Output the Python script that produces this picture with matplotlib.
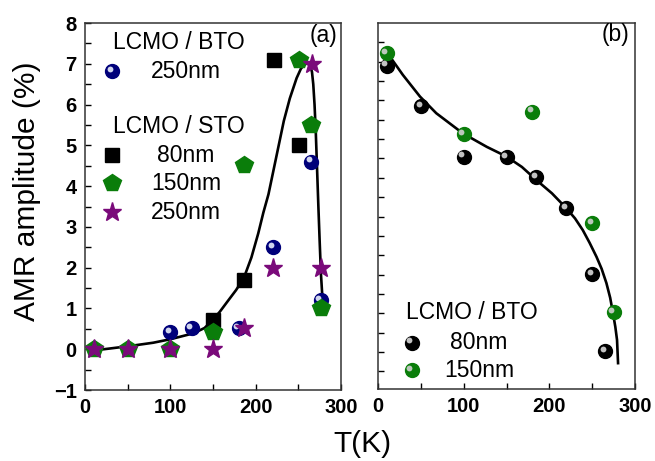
import numpy as np
import matplotlib
matplotlib.use("Agg")
import matplotlib.pyplot as plt
from matplotlib.transforms import offset_copy

plt.rcParams['font.family'] = ['Liberation Sans', 'DejaVu Sans']

# ---- panel (a) data ----
bto250_T = [100, 125, 180, 220, 265, 276]
bto250_amr = [0.42, 0.51, 0.51, 2.5, 4.6, 1.21]

sto80_T = [150, 186, 221, 251]
sto80_amr = [0.72, 1.7, 7.1, 5.0]

sto150_T = [10, 50, 100, 150, 186, 251, 265, 276]
sto150_amr = [0.0, 0.0, 0.0, 0.42, 4.52, 7.1, 5.5, 1.0]

sto250_T = [10, 50, 100, 150, 186, 220, 266, 276]
sto250_amr = [0.0, 0.0, 0.0, 0.0, 0.51, 2.0, 7.0, 2.0]

# guide line
fit_a_T = [10, 30, 53, 80, 100, 127, 140, 148, 158, 168, 177, 186, 195,
           203, 209, 215, 219, 225, 233, 240, 248, 253, 257, 261, 264, 266,
           267.5, 269, 270.5, 272, 273.5, 275, 276.5, 279]
fit_a_amr = [-0.03, 0.02, 0.08, 0.16, 0.245, 0.39, 0.52, 0.68, 0.92, 1.2,
             1.45, 1.74, 2.25, 2.84, 3.35, 3.8, 4.2, 4.8, 5.6, 6.15, 6.65,
             6.88, 6.98, 7.02, 6.95, 6.8, 6.5, 6.0, 5.3, 4.4, 3.5, 2.65,
             1.85, 1.0]

# ---- panel (b) data (arbitrary units, no y labels) ----
bto80_T = [10, 50, 100, 150, 185, 220, 250, 265]
bto80_val = [7.4, 6.36, 5.05, 5.03, 4.51, 3.71, 2.02, 0.03]

bto150_T = [10, 100, 180, 250, 275]
bto150_val = [7.72, 5.62, 6.21, 3.33, 1.02]

fit_b_T = [14, 29, 49, 68, 99, 127, 150, 168, 185, 203, 220, 230, 239, 247,
           255, 261, 266.6, 271, 274.3, 277, 279, 280.2]
fit_b_val = [7.63, 7.16, 6.6, 6.17, 5.65, 5.3, 5.05, 4.78, 4.44, 4.1, 3.71,
             3.45, 3.15, 2.82, 2.46, 2.15, 1.78, 1.4, 1.0, 0.65, 0.31, -0.29]

NAVY = '#00007a'
GREEN = '#0a7d0a'
PURPLE = '#7a0a7a'


def balls(ax, x, y, color, hl, size=10, transform=None, zorder=3):
    tr = ax.transData if transform is None else transform
    ax.plot(x, y, 'o', ms=size, color=color, mec=color, transform=tr,
            zorder=zorder, clip_on=False)
    tr2 = offset_copy(tr, fig=ax.figure, x=-2.2, y=2.2, units='dots')
    ax.plot(x, y, 'o', ms=size * 0.42, color=hl, mec='none', alpha=0.9,
            transform=tr2, zorder=zorder + 0.1, clip_on=False)


fig = plt.figure(figsize=(6.55, 4.61), dpi=100)
ax1 = fig.add_axes([0.1298, 0.154, 0.3908, 0.796])
ax2 = fig.add_axes([0.5771, 0.156, 0.3924, 0.794])

# panel (a)
ax1.plot(fit_a_T, fit_a_amr, color='black', lw=1.9, zorder=2)
balls(ax1, bto250_T, bto250_amr, NAVY, '#e8eefa')
ax1.plot(sto80_T, sto80_amr, 's', ms=9.5, color='black', zorder=4)
ax1.plot(sto150_T, sto150_amr, 'p', ms=13, color=GREEN, mec=GREEN, zorder=4)
ax1.plot(sto250_T, sto250_amr, '*', ms=14, color=PURPLE, mec=PURPLE, zorder=5)

ax1.set_xlim(0, 300)
ax1.set_ylim(-1, 8)
ax1.set_xticks([0, 100, 200, 300])
ax1.set_xticks([50, 150, 250], minor=True)
ax1.set_yticks(range(-1, 9))
ax1.set_yticks(np.arange(-0.5, 8, 1), minor=True)

ta = ax1.transAxes
fs = 16.5
ax1.text(0.367, 0.946, 'LCMO / BTO', transform=ta, ha='center', va='center', fontsize=fs)
balls(ax1, [0.105], [0.869], NAVY, '#e8eefa', transform=ta)
ax1.text(0.395, 0.869, '250nm', transform=ta, ha='center', va='center', fontsize=fs)
ax1.text(0.367, 0.717, 'LCMO / STO', transform=ta, ha='center', va='center', fontsize=fs)
ax1.plot([0.105], [0.640], 's', ms=9.5, color='black', transform=ta)
ax1.text(0.395, 0.640, '80nm', transform=ta, ha='center', va='center', fontsize=fs)
ax1.plot([0.105], [0.564], 'p', ms=13, color=GREEN, mec=GREEN, transform=ta)
ax1.text(0.395, 0.564, '150nm', transform=ta, ha='center', va='center', fontsize=fs)
ax1.plot([0.105], [0.485], '*', ms=14, color=PURPLE, mec=PURPLE, transform=ta)
ax1.text(0.395, 0.485, '250nm', transform=ta, ha='center', va='center', fontsize=fs)
ax1.text(0.932, 0.965, '(a)', transform=ta, ha='center', va='center', fontsize=fs)

# panel (b)
ax2.plot(fit_b_T, fit_b_val, color='black', lw=1.9, zorder=2)
balls(ax2, bto80_T, bto80_val, 'black', '#d8d8d8')
balls(ax2, bto150_T, bto150_val, GREEN, '#d0d0d0')
ax2.set_xlim(0, 300)
ax2.set_ylim(-0.96, 8.5)
ax2.set_xticks([0, 100, 200, 300])
ax2.set_xticks([50, 150, 250], minor=True)
ax2.set_yticks(np.arange(-0.5, 8.01, 0.5))
ax2.set_yticklabels([])

tb = ax2.transAxes
ax2.text(0.365, 0.208, 'LCMO / BTO', transform=tb, ha='center', va='center', fontsize=fs)
balls(ax2, [0.131], [0.127], 'black', '#d8d8d8', transform=tb)
ax2.text(0.393, 0.127, '80nm', transform=tb, ha='center', va='center', fontsize=fs)
balls(ax2, [0.131], [0.052], GREEN, '#d0d0d0', transform=tb)
ax2.text(0.393, 0.052, '150nm', transform=tb, ha='center', va='center', fontsize=fs)
ax2.text(0.925, 0.968, '(b)', transform=tb, ha='center', va='center', fontsize=fs)

for ax in (ax1, ax2):
    ax.tick_params(which='both', direction='in', length=4, width=1,
                   top=False, right=False, labelsize=14.5, pad=6)
    for lab in ax.get_xticklabels() + ax.get_yticklabels():
        lab.set_fontweight('bold')
    for sp in ax.spines.values():
        sp.set_linewidth(1.1)
        sp.set_color('#333333')

fig.text(0.041, 0.585, 'AMR amplitude (%)', rotation=90, ha='center', va='center', fontsize=21.5)
fig.text(0.554, 0.036, 'T(K)', ha='center', va='center', fontsize=21.5)

fig.savefig('out.png', dpi=100)
